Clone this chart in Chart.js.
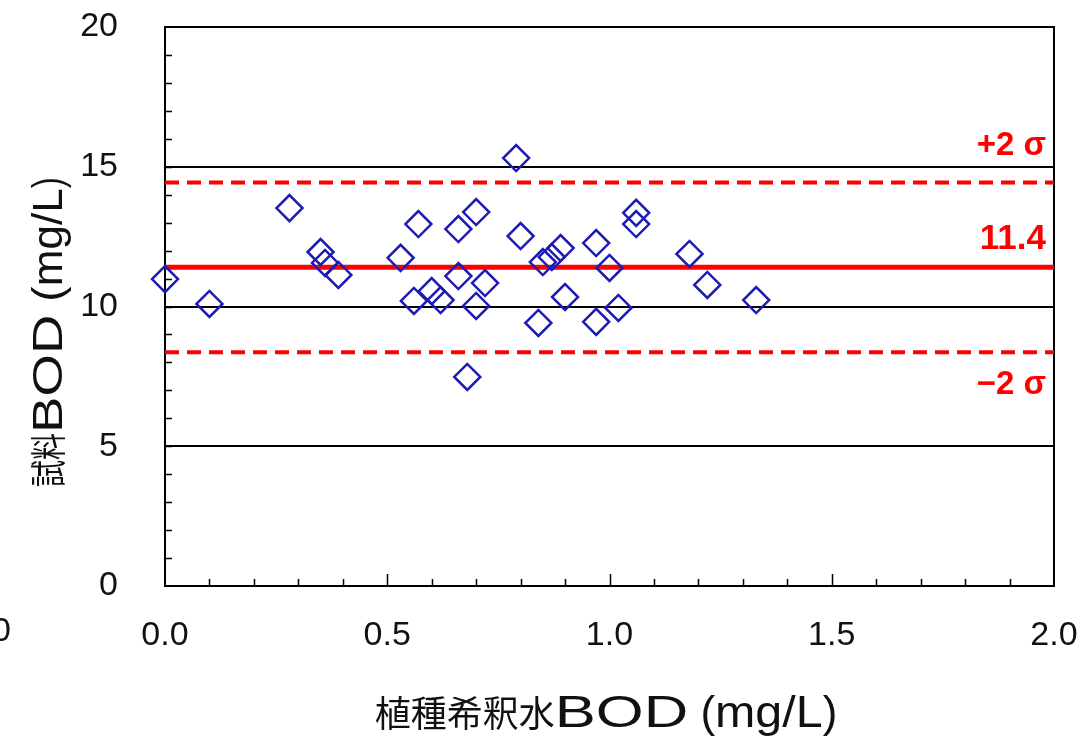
<!DOCTYPE html>
<html lang="ja">
<head>
<meta charset="utf-8">
<title>試料BOD 管理図</title>
<script src="https://cdn.jsdelivr.net/npm/chart.js@4.4.0/dist/chart.umd.min.js"></script>
<style>
  html, body { margin: 0; padding: 0; background: #fff; }
  #wrap { width: 1092px; height: 743px; }
</style>
</head>
<body>
<div id="wrap"><canvas id="bodChart" width="1092" height="743"></canvas></div>
<script>
// ============================================
// Data
// ============================================

// 植種希釈水BOD (mg/L)
const seedBOD = [
  0.00, 0.10, 0.28, 0.35, 0.36, 0.39, 0.53, 0.56, 0.57, 0.60, 0.62,
  0.66, 0.66, 0.70, 0.70, 0.72, 0.68, 0.79, 0.80, 0.84, 0.85, 0.87,
  0.89, 0.90, 0.97, 0.97, 1.00, 1.02, 1.06, 1.06, 1.18, 1.22, 1.33
];
// 試料BOD (mg/L)
const sampleBOD = [
  10.98, 10.09, 13.52, 11.95, 11.56, 11.13, 11.74, 10.20, 12.95, 10.55, 10.23,
  12.77, 11.09, 13.38, 10.02, 10.84, 7.48, 15.31, 12.52, 9.41, 11.59, 11.77,
  12.09, 10.34, 12.27, 9.45, 11.38, 9.95, 13.35, 12.95, 11.88, 10.77, 10.23
];

const xTicks = [0, 0.5, 1.0, 1.5, 2.0];
const yTicks = [0, 5, 10, 15, 20];

const meanBOD = 11.4;
const sigmaBOD = 1.52;
const upperBOD = meanBOD + 2 * sigmaBOD;
const lowerBOD = meanBOD - 2 * sigmaBOD;

const RED = '#ff0000';
const BLUE = '#1c1cb4';
const INK = '#111111';
const NUM_FONT = "'Liberation Sans', Arial, sans-serif";
const JP_FONT = "'Noto Sans CJK JP', 'Noto Sans', sans-serif";

// ============================================
// Helpers
// ============================================

// draws text parts on one baseline, each widened/narrowed by its own k,
// centred on cx (the source mixes a narrow kanji face with a wide latin one)
function drawMixed(ctx, parts, cx, baseline) {
  let total = 0;
  parts.forEach(p => {
    ctx.font = p.font;
    p.w = ctx.measureText(p.text).width * (p.k || 1);
    total += p.w;
  });
  let x = cx - total / 2;
  parts.forEach(p => {
    ctx.save();
    ctx.translate(x, baseline);
    ctx.scale(p.k || 1, 1);
    ctx.font = p.font;
    ctx.textAlign = 'left';
    ctx.textBaseline = 'alphabetic';
    ctx.fillText(p.text, 0, 0);
    ctx.restore();
    x += p.w;
  });
}

const framePlugin = {
  id: 'frame',
  beforeDatasetsDraw(chart) {
    const { ctx, chartArea: a, scales } = chart;
    ctx.save();
    ctx.strokeStyle = '#000';
    ctx.lineWidth = 2;
    ctx.strokeRect(a.left, a.top, a.right - a.left, a.bottom - a.top);

    // inward tick marks
    ctx.lineWidth = 1.5;
    ctx.beginPath();
    for (let i = 1; i < 20; i++) {
      const py = Math.round(scales.y.getPixelForValue(i)) + 0.5;
      ctx.moveTo(a.left, py);
      ctx.lineTo(a.left + 7, py);
    }
    for (let i = 1; i < 20; i++) {
      const px = Math.round(scales.x.getPixelForValue(i / 10)) + 0.5;
      const len = i % 5 === 0 ? 12 : 7;
      ctx.moveTo(px, a.bottom);
      ctx.lineTo(px, a.bottom - len);
    }
    ctx.stroke();
    ctx.restore();
  },
  afterDraw(chart) {
    const { ctx, chartArea: a, scales } = chart;
    ctx.save();

    // control line labels
    ctx.fillStyle = RED;
    ctx.textAlign = 'right';
    ctx.textBaseline = 'middle';
    const lx = a.right - 8;
    ctx.font = 'bold 33px ' + NUM_FONT;
    ctx.fillText('+2 σ', lx, scales.y.getPixelForValue(upperBOD) - 36);
    ctx.font = 'bold 35px ' + NUM_FONT;
    ctx.fillText('11.4', lx, scales.y.getPixelForValue(meanBOD) - 28);
    ctx.font = 'bold 33px ' + NUM_FONT;
    ctx.fillText('−2 σ', lx, scales.y.getPixelForValue(lowerBOD) + 33);

    // axis titles
    ctx.fillStyle = INK;
    drawMixed(ctx, [
      { text: '植種希釈水', font: '36px ' + JP_FONT },
      { text: 'BOD', font: '44px ' + NUM_FONT, k: 1.4 },
      { text: ' (', font: '44px ' + NUM_FONT },
      { text: 'mg/L', font: '44px ' + NUM_FONT, k: 1.1 },
      { text: ')', font: '44px ' + NUM_FONT }
    ], 606, 727);

    ctx.save();
    ctx.translate(62, 332);
    ctx.rotate(-Math.PI / 2);
    drawMixed(ctx, [
      { text: '試料', font: '36px ' + JP_FONT, k: 0.75 },
      { text: 'BOD', font: '42px ' + NUM_FONT, k: 1.3 },
      { text: ' (', font: '42px ' + NUM_FONT, k: 1.1 },
      { text: 'mg/L', font: '42px ' + NUM_FONT, k: 1.05 },
      { text: ')', font: '42px ' + NUM_FONT, k: 0.8 }
    ], 0, 0);
    ctx.restore();

    // edge of a neighbouring chart's tick label, cut by the crop
    ctx.font = '34px ' + NUM_FONT;
    ctx.textAlign = 'right';
    ctx.textBaseline = 'middle';
    ctx.fillText('0', 11, 632);
    ctx.restore();
  }
};

// ============================================
// Chart
// ============================================

const points = seedBOD.map((x, i) => ({ x: x, y: sampleBOD[i] }));
const hLine = v => [{ x: xTicks[0], y: v }, { x: xTicks[xTicks.length - 1], y: v }];

new Chart(document.getElementById('bodChart'), {
  type: 'scatter',
  data: {
    datasets: [
      {
        label: '試料BOD',
        data: points,
        pointStyle: 'rectRot',
        pointRadius: 13,
        pointBorderWidth: 2.5,
        borderColor: BLUE,
        backgroundColor: 'rgba(0,0,0,0)',
        showLine: false,
        clip: false,
        order: 0
      },
      {
        label: '平均',
        data: hLine(meanBOD),
        showLine: true,
        borderColor: RED,
        borderWidth: 5,
        pointRadius: 0,
        order: 1
      },
      {
        label: '+2σ',
        data: hLine(upperBOD),
        showLine: true,
        borderColor: RED,
        borderWidth: 4,
        borderDash: [14, 8],
        pointRadius: 0,
        order: 1
      },
      {
        label: '-2σ',
        data: hLine(lowerBOD),
        showLine: true,
        borderColor: RED,
        borderWidth: 4,
        borderDash: [14, 8],
        pointRadius: 0,
        order: 1
      }
    ]
  },
  options: {
    responsive: false,
    animation: false,
    layout: { padding: { left: 0, right: 38, top: 27, bottom: 0 } },
    plugins: {
      legend: { display: false },
      tooltip: { enabled: false }
    },
    scales: {
      x: {
        type: 'linear',
        min: 0,
        max: 2,
        afterBuildTicks: s => { s.ticks = xTicks.map(v => ({ value: v })); },
        afterFit: s => {
          s.height = 157;
          s.paddingLeft = 0;
          s.paddingRight = 0;
        },
        grid: { display: false },
        border: { display: false },
        ticks: {
          padding: 21,
          color: INK,
          maxRotation: 0,
          autoSkip: false,
          font: { family: NUM_FONT, size: 34 },
          callback: v => Number(v).toFixed(1)
        }
      },
      y: {
        type: 'linear',
        min: 0,
        max: 20,
        afterBuildTicks: s => { s.ticks = yTicks.map(v => ({ value: v })); },
        afterFit: s => {
          s.width = 165;
          s.paddingTop = 0;
          s.paddingBottom = 0;
        },
        grid: { color: '#000', lineWidth: 2, drawTicks: false },
        border: { display: false },
        ticks: {
          padding: 47,
          color: INK,
          font: { family: NUM_FONT, size: 34 }
        }
      }
    }
  },
  plugins: [framePlugin]
});
</script>
</body>
</html>
